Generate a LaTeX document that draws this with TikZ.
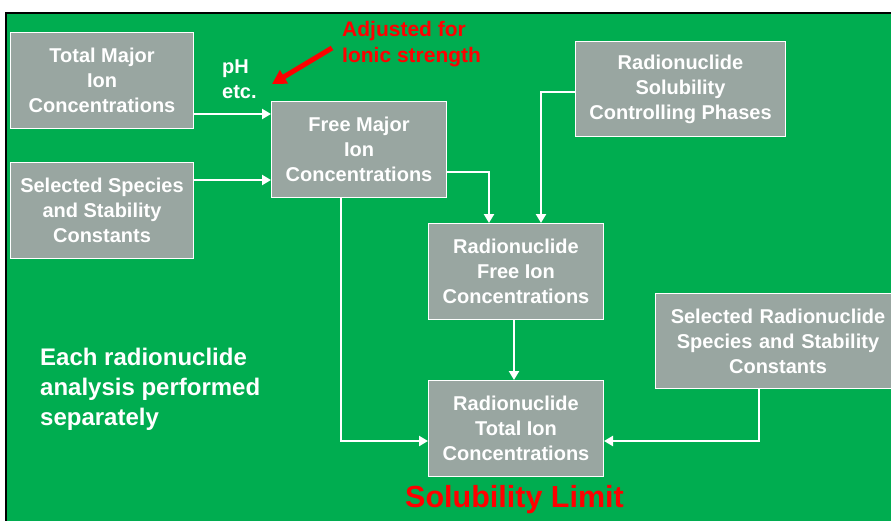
\documentclass[tikz,border=0pt]{standalone}
\usepackage{fontspec}
\setmainfont{Liberation Sans}
\usepackage{tikz}
\usetikzlibrary{arrows.meta}
\definecolor{slidegreen}{RGB}{0,173,80}
\definecolor{boxgray}{RGB}{153,166,161}
\definecolor{notered}{RGB}{255,0,0}

\begin{document}
\begin{tikzpicture}[x=1pt,y=-1pt,
  box/.style={draw=white,line width=1pt,fill=boxgray,text=white,align=center,
    inner sep=0pt,anchor=north west,font=\bfseries\fontsize{20}{25}\selectfont},
  flow/.style={draw=white,line width=2.8pt,-{Triangle[width=10pt,length=9pt]}},
  tag/.style={text=white,inner sep=0pt,align=left,anchor=north west},
  redtag/.style={text=notered,inner sep=0pt,align=left,anchor=north west}]
\path[use as bounding box] (0,0) rectangle (891,520);
\path[fill=white,draw=none] (0,0) rectangle (891,520);
\path[fill=slidegreen,draw=black,line width=2pt] (6,13) rectangle (900,530);
% boxes
\node[box,minimum width=183pt,minimum height=96pt] (tmi) at (10,32) {Total Major\\Ion\\Concentrations};
\node[box,minimum width=183pt,minimum height=96pt] (sss) at (10,162) {Selected Species\\and Stability\\Constants};
\node[box,minimum width=175pt,minimum height=96pt] (fmi) at (271,101) {Free Major\\Ion\\Concentrations};
\node[box,minimum width=210pt,minimum height=95pt] (rsp) at (575,41) {Radionuclide\\Solubility\\Controlling Phases};
\node[box,minimum width=175pt,minimum height=96pt] (rfi) at (428,223) {Radionuclide\\Free Ion\\Concentrations};
\node[box,minimum width=245pt,minimum height=95pt,text width=240pt] (srs) at (655,293) {Selected Radionuclide\\Species and Stability\\Constants};
\node[box,minimum width=175pt,minimum height=96pt] (rti) at (428,380) {Radionuclide\\Total Ion\\Concentrations};
% labels
\node[tag,font=\bfseries\fontsize{20}{25}\selectfont] (ph) at (222,60) {pH\\etc.};
\node[redtag,font=\bfseries\fontsize{21}{26}\selectfont] (adj) at (342,21) {Adjusted for\\Ionic strength};
\node[tag,font=\bfseries\fontsize{24}{30}\selectfont] (each) at (40,348) {Each radionuclide\\analysis performed\\separately};
\node[redtag,anchor=base west,font=\bfseries\fontsize{30.5}{34}\selectfont] (sol) at (405,507) {Solubility Limit};
% connectors
\draw[flow] (tmi.east |- 0,114) -- (fmi.west |- 0,114);
\draw[flow] (sss.east |- 0,180) -- (fmi.west |- 0,180);
\draw[flow] (fmi.east |- 0,172) -| (489,0 |- rfi.north);
\draw[flow] (rsp.west |- 0,92) -| (541,0 |- rfi.north);
\draw[flow] (rfi.south -| 514,0) -- (rti.north -| 514,0);
\draw[flow] (fmi.south -| 341,0) |- (rti.west |- 0,441);
\draw[flow] (srs.south -| 759,0) |- (rti.east |- 0,441);
\coordinate (adjtip) at (272,84);
\draw[draw=notered,line width=5pt,-{Triangle[width=15pt,length=14pt]}] (332,48) -- (adjtip);
\end{tikzpicture}
\end{document}
